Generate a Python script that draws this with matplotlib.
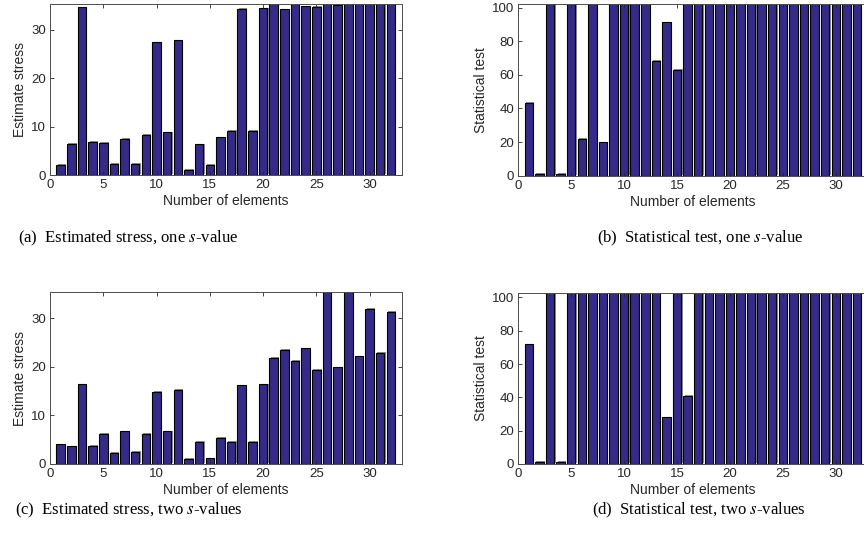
import matplotlib
matplotlib.use("Agg")
import matplotlib.pyplot as plt
import matplotlib.patheffects as pe
import numpy as np

# bars that run off the top of the axes are stored just above the axis limit
elements = np.arange(1, 33)

stress_one = [2.1, 6.4, 34.6, 6.8, 6.7, 2.3, 7.5, 2.3, 8.3, 27.4, 8.8, 27.8, 1.0, 6.3, 2.1, 7.8,
              9.1, 34.3, 9.1, 34.4, 36.0, 34.2, 36.0, 34.8, 34.7, 36.0, 35.1, 36.0, 36.0, 36.0, 36.0, 36.0]
test_one = [43.4, 1.2, 103, 1.2, 103, 21.8, 103, 19.8, 103, 103, 103, 103, 68.3, 91.3, 63.2, 103,
            103, 103, 103, 103, 103, 103, 103, 103, 103, 103, 103, 103, 103, 103, 103, 103]
stress_two = [4.0, 3.6, 16.4, 3.7, 6.1, 2.3, 6.7, 2.4, 6.1, 14.9, 6.7, 15.2, 1.0, 4.5, 1.1, 5.3,
              4.5, 16.2, 4.5, 16.4, 21.8, 23.5, 21.3, 23.8, 19.4, 36.0, 19.9, 36.0, 22.2, 32.0, 22.9, 31.3]
test_two = [71.8, 1.2, 103, 1.2, 103, 103, 103, 103, 103, 103, 103, 103, 103, 28.0, 103, 40.8,
            103, 103, 103, 103, 103, 103, 103, 103, 103, 103, 103, 103, 103, 103, 103, 103]

captions = [
    r"(a)  Estimated stress, one $s$-value",
    r"(b)  Statistical test, one $s$-value",
    r"(c)  Estimated stress, two $s$-values",
    r"(d)  Statistical test, two $s$-values",
]

plt.rcParams["font.family"] = "Liberation Sans"
plt.rcParams["mathtext.fontset"] = "stix"

fig = plt.figure(figsize=(8.64, 5.55), dpi=100)
W, H = 864.0, 555.0

# pixel boxes: left, right, top, bottom
boxes = [
    (50.0, 401.5, 3.5, 175.0),
    (518.3, 867.5, 4.0, 175.7),
    (50.0, 401.5, 292.3, 463.7),
    (518.3, 867.5, 292.7, 464.0),
]
series = [stress_one, test_one, stress_two, test_two]
ylims = [35.4, 102.2, 35.4, 102.8]
yticks = [np.arange(0, 31, 10), np.arange(0, 101, 20), np.arange(0, 31, 10), np.arange(0, 101, 20)]
caption_xy = [(128, 238), (700, 238), (129, 510), (699, 510)]

ink = "#262626"
bar_color = "#352a87"

for i in range(4):
    l, r, t, b = boxes[i]
    ax = fig.add_axes([l / W, 1 - b / H, (r - l) / W, (b - t) / H])
    ax.bar(elements, series[i], width=0.8, color=bar_color, edgecolor="black", linewidth=0.8,
           path_effects=[pe.SimplePatchShadow(offset=(0.9, 0.5), shadow_rgbFace="0.55", alpha=1.0),
                         pe.Normal()])
    ax.set_xlim(0, 33)
    ax.set_ylim(0, ylims[i])
    ax.set_xticks(np.arange(0, 31, 5))
    ax.set_yticks(yticks[i])
    ax.tick_params(direction="in", top=True, right=True, length=3, width=0.6,
                   colors=ink, labelsize=9.5, pad=3)
    for s in ax.spines.values():
        s.set_color("0.3")
        s.set_linewidth(0.7)
    ax.set_xlabel("Number of elements", fontsize=10, color=ink, labelpad=2)
    ax.set_ylabel("Estimate stress" if i % 2 == 0 else "Statistical test", fontsize=10,
                  color=ink, labelpad=3)
    cx, cy = caption_xy[i]
    fig.text(cx / W, 1 - cy / H, captions[i], ha="center", va="center",
             family="Liberation Serif", fontsize=12, color="black")

fig.savefig("out.png", dpi=100)
